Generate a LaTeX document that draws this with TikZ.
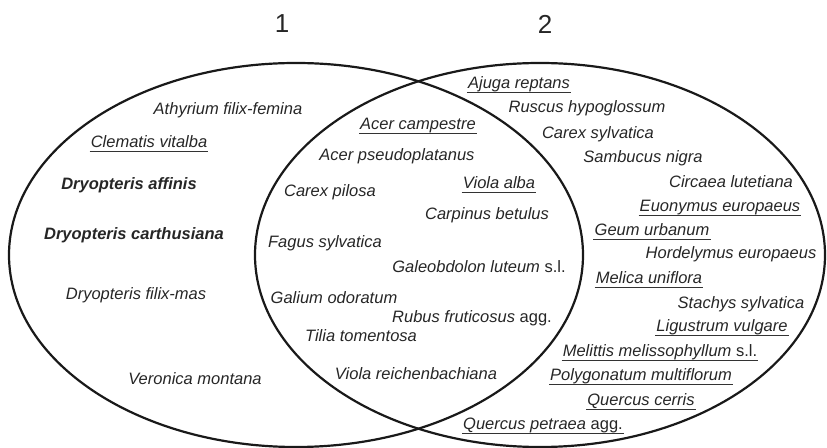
\documentclass[tikz,border=0pt]{standalone}
\usepackage{fontspec}
\setmainfont{Liberation Sans}
\usepackage{tikz}

\tikzset{
    sp/.style={font=\fontsize{16.5}{18}\selectfont\itshape, text=black!85,
        inner xsep=1pt, inner ysep=2pt, text height=0.72em, text depth=0.22em},
    spb/.style={sp, font=\fontsize{16.5}{18}\selectfont\itshape\bfseries},
    spu/.style={sp, append after command={
        (\tikzlastnode.south west) edge[uline] (\tikzlastnode.south east)}},
    uline/.style={draw=black!80, line width=1.1pt},
    oval/.style={draw=black!90, line width=2.2pt},
    num/.style={font=\fontsize{26}{28}\selectfont, text=black!85}
}

\begin{document}
\begin{tikzpicture}[x=1pt, y=1pt]
        \useasboundingbox (0,0) rectangle (827,447);

        % Эллипсы
        \draw[oval] (296,192) ellipse [x radius=287, y radius=192];
        \draw[oval] (540,192) ellipse [x radius=285, y radius=192];

        % Номера
        \node[num] (n1) at (282,423) {1};
        \node[num] (n2) at (545,423) {2};

        % Виды: x/y/стиль/название
        \foreach \x/\y/\st/\txt [count=\i] in {
            228/335/sp/{Athyrium filix-femina},
            149/302/spu/{Clematis vitalba},
            129/260/spb/{Dryopteris affinis},
            134/210/spb/{Dryopteris carthusiana},
            136/150/sp/{Dryopteris filix-mas},
            195/65/sp/{Veronica montana},
            418/320/spu/{Acer campestre},
            397/289/sp/{Acer pseudoplatanus},
            499/261/spu/{Viola alba},
            330/253/sp/{Carex pilosa},
            487/230/sp/{Carpinus betulus},
            325/202/sp/{Fagus sylvatica},
            479/177/sp/{Galeobdolon luteum \textup{s.l.}},
            334/146/sp/{Galium odoratum},
            472/127/sp/{Rubus fruticosus \textup{agg.}},
            361/108/sp/{Tilia tomentosa},
            416/70/sp/{Viola reichenbachiana},
            519/361/spu/{Ajuga reptans},
            587/337/sp/{Ruscus hypoglossum},
            598/311/sp/{Carex sylvatica},
            643/287/sp/{Sambucus nigra},
            731/262/sp/{Circaea lutetiana},
            720/238/spu/{Euonymus europaeus},
            652/214/spu/{Geum urbanum},
            731/191/sp/{Hordelymus europaeus},
            649/166/spu/{Melica uniflora},
            741/141/sp/{Stachys sylvatica},
            722/118/spu/{Ligustrum vulgare},
            660/93/spu/{Melittis melissophyllum \textup{s.l.}},
            641/69/spu/{Polygonatum multiflorum},
            641/44/spu/{Quercus cerris},
            543/20/spu/{Quercus petraea \textup{agg.}}}
        {
            \node[\st] (s\i) at (\x,\y) {\txt};
        }
\end{tikzpicture}
\end{document}
